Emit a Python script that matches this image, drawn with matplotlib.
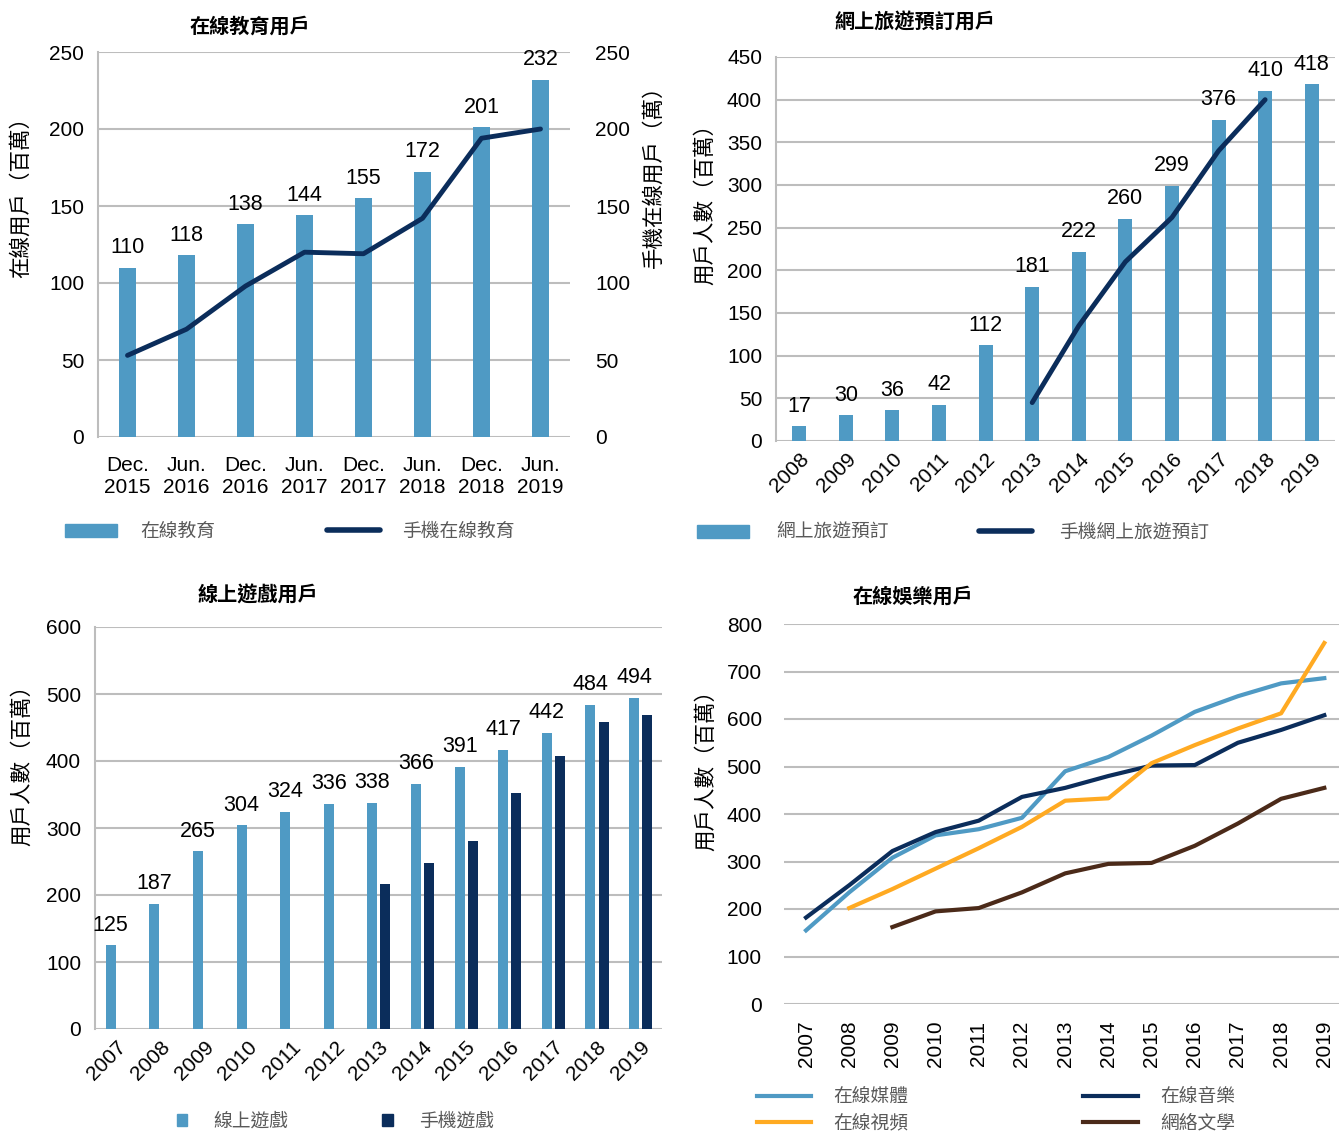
import matplotlib
matplotlib.use("Agg")
import matplotlib.pyplot as plt
import numpy as np
from matplotlib.patches import Patch
from matplotlib.lines import Line2D

plt.rcParams['font.family'] = ['Liberation Sans', 'Noto Sans CJK TC', 'DejaVu Sans']

# --- data ---
edu_periods = ["Dec.\n2015", "Jun.\n2016", "Dec.\n2016", "Jun.\n2017",
               "Dec.\n2017", "Jun.\n2018", "Dec.\n2018", "Jun.\n2019"]
edu_users = [110, 118, 138, 144, 155, 172, 201, 232]
edu_mobile = [53, 70, 98, 120, 119, 142, 194, 200]

travel_years = [str(y) for y in range(2008, 2020)]
travel_users = [17, 30, 36, 42, 112, 181, 222, 260, 299, 376, 410, 418]
travel_mobile = [None, None, None, None, None, 45, 135, 210, 262, 340, 400, None]

game_years = [str(y) for y in range(2007, 2020)]
game_users = [125, 187, 265, 304, 324, 336, 338, 366, 391, 417, 442, 484, 494]
game_mobile = [0, 0, 0, 0, 0, 0, 216, 248, 280, 352, 407, 458, 468]

ent_years = [str(y) for y in range(2007, 2020)]
ent_media = [155, 235, 308, 355, 368, 392, 490, 520, 565, 615, 648, 675, 686]
ent_music = [182, 250, 322, 362, 386, 436, 455, 480, 502, 503, 550, 577, 608]
ent_video = [None, 202, 242, 285, 328, 373, 428, 433, 507, 545, 580, 612, 760]
ent_lit = [None, None, 162, 195, 202, 235, 275, 295, 297, 333, 380, 432, 455]

BAR = "#4F9AC4"
NAVY = "#0B2D5B"
ORANGE = "#FFAA22"
BROWN = "#4B2A19"
GRID = "#BDBDBD"
LEG = "#595959"
TICK = 15
LAB = 15.5
TITLE = 14.5
LEGF = 13.5

W, H = 1339, 1140
fig = plt.figure(figsize=(W / 100, H / 100), dpi=100)


def rect(l, t, r, b):
    return [l / W, 1 - b / H, (r - l) / W, (b - t) / H]


def style(ax, left_spine=True):
    for s in ax.spines.values():
        s.set_visible(False)
    if left_spine:
        ax.spines['left'].set_visible(True)
        ax.spines['left'].set_color(GRID)
        ax.spines['left'].set_linewidth(1.5)
    ax.grid(axis='y', color=GRID, lw=1.5)
    ax.set_axisbelow(True)
    ax.tick_params(length=0, labelsize=TICK, pad=10)


def labels(ax, xs, vals):
    for x, v in zip(xs, vals):
        ax.annotate(str(v), (x, v), xytext=(0, 7), textcoords='offset points',
                    ha='center', va='bottom', fontsize=15.5)


# ---------- chart 1 ----------
ax1 = fig.add_axes(rect(98, 52, 570, 437))
style(ax1)
x = np.arange(len(edu_periods))
ax1.bar(x, edu_users, width=0.3, color=BAR)
labels(ax1, x, edu_users)
ax1.set_xlim(-0.5, len(x) - 0.5)
ax1.set_ylim(0, 250)
ax1.set_yticks(range(0, 251, 50))
ax1.set_xticks(x)
ax1.set_xticklabels(edu_periods, fontsize=TICK, linespacing=1.15)
ax1.tick_params(axis='x', pad=14)
ax1.set_ylabel("在線用戶（百萬）", fontsize=LAB)
ax1.yaxis.set_label_coords(-0.14, 0.636)
ax1b = ax1.twinx()
for s in ax1b.spines.values():
    s.set_visible(False)
ax1b.plot(x, edu_mobile, color=NAVY, lw=3.5, solid_capstyle='round')
ax1b.set_ylim(0, 250)
ax1b.set_yticks(range(0, 251, 50))
ax1b.tick_params(length=0, labelsize=TICK, pad=18)
ax1b.set_ylabel("手機在線用戶（萬）", fontsize=LAB, rotation=90)
ax1b.yaxis.set_label_coords(1.155, 0.69)
fig.text(250 / W, 1 - 27 / H, "在線教育用戶", ha='center', va='center',
         fontsize=TITLE, fontweight='bold')
ax1.legend(handles=[Patch(color=BAR, label="在線教育"),
                    Line2D([], [], color=NAVY, lw=4, solid_capstyle='round', label="手機在線教育")],
           loc='center left', bbox_to_anchor=(48 / W, 1 - 532 / H), bbox_transform=fig.transFigure,
           ncol=2, frameon=False, fontsize=LEGF, labelcolor=LEG, handlelength=2.8,
           handletextpad=1.2, columnspacing=6.0)

# ---------- chart 2 ----------
ax2 = fig.add_axes(rect(776, 57, 1335, 441))
style(ax2)
x = np.arange(len(travel_years))
ax2.bar(x, travel_users, width=0.3, color=BAR)
labels(ax2, x, travel_users)
mx = [i for i, v in enumerate(travel_mobile) if v is not None]
ax2.plot(mx, [travel_mobile[i] for i in mx], color=NAVY, lw=3.5, solid_capstyle='round')
ax2.set_xlim(-0.5, len(x) - 0.5)
ax2.set_ylim(0, 450)
ax2.set_yticks(range(0, 451, 50))
ax2.set_xticks(x)
ax2.set_xticklabels(travel_years, rotation=45, ha='right', rotation_mode='anchor', fontsize=TICK)
ax2.tick_params(axis='x', pad=6)
ax2.set_ylabel("用戶人數（百萬）", fontsize=LAB)
ax2.yaxis.set_label_coords(-0.107, 0.63)
fig.text(915 / W, 1 - 22 / H, "網上旅遊預訂用戶", ha='center', va='center',
         fontsize=TITLE, fontweight='bold')
ax2.legend(handles=[Patch(color=BAR, label="網上旅遊預訂"),
                    Line2D([], [], color=NAVY, lw=4, solid_capstyle='round', label="手機網上旅遊預訂")],
           loc='center left', bbox_to_anchor=(680 / W, 1 - 533 / H), bbox_transform=fig.transFigure,
           ncol=2, frameon=False, fontsize=LEGF, labelcolor=LEG, handlelength=2.8,
           handletextpad=1.45, columnspacing=4.8)

# ---------- chart 3 ----------
ax3 = fig.add_axes(rect(95, 627, 662, 1029))
style(ax3)
x = np.arange(len(game_years))
ax3.bar(x - 0.14, game_users, width=0.23, color=BAR)
ax3.bar(x + 0.16, game_mobile, width=0.23, color=NAVY)
labels(ax3, x - 0.14, game_users)
ax3.set_xlim(-0.5, len(x) - 0.5)
ax3.set_ylim(0, 600)
ax3.set_yticks(range(0, 601, 100))
ax3.set_xticks(x)
ax3.set_xticklabels(game_years, rotation=45, ha='right', rotation_mode='anchor', fontsize=TICK)
ax3.tick_params(axis='x', pad=6)
ax3.set_ylabel("用戶人數（百萬）", fontsize=LAB)
ax3.yaxis.set_label_coords(-0.109, 0.67)
fig.text(258 / W, 1 - 595 / H, "線上遊戲用戶", ha='center', va='center',
         fontsize=TITLE, fontweight='bold')
ax3.legend(handles=[Patch(color=BAR, label="線上遊戲"),
                    Patch(color=NAVY, label="手機遊戲")],
           loc='center left', bbox_to_anchor=(160 / W, 1 - 1122 / H), bbox_transform=fig.transFigure,
           ncol=2, frameon=False, fontsize=LEGF, labelcolor=LEG, handlelength=0.55,
           handleheight=0.65, handletextpad=1.4, columnspacing=5.0)

# ---------- chart 4 ----------
ax4 = fig.add_axes(rect(784, 624, 1339, 1004))
style(ax4, left_spine=False)
x = np.arange(len(ent_years))


def line(vals, color, label):
    idx = [i for i, v in enumerate(vals) if v is not None]
    return ax4.plot(idx, [vals[i] for i in idx], color=color, lw=3, label=label)[0]


h_media = line(ent_media, BAR, "在線媒體")
h_music = line(ent_music, NAVY, "在線音樂")
h_video = line(ent_video, ORANGE, "在線視頻")
h_lit = line(ent_lit, BROWN, "網絡文學")
ax4.set_xlim(-0.51, 12.34)
ax4.set_ylim(0, 800)
ax4.set_yticks(range(0, 801, 100))
ax4.set_xticks(x)
ax4.set_xticklabels(ent_years, rotation=90, fontsize=TICK)
ax4.tick_params(axis='x', pad=12)
ax4.tick_params(axis='y', pad=16)
ax4.set_ylabel("用戶人數（百萬）", fontsize=LAB)
ax4.yaxis.set_label_coords(-0.121, 0.63)
fig.text(913 / W, 1 - 597 / H, "在線娛樂用戶", ha='center', va='center',
         fontsize=TITLE, fontweight='bold')
ax4.legend(handles=[h_media, h_video, h_music, h_lit],
           loc='upper left', bbox_to_anchor=(740 / W, 1 - 1072 / H), bbox_transform=fig.transFigure,
           ncol=2, frameon=False, fontsize=LEGF, labelcolor=LEG, handlelength=2.9,
           handletextpad=1.2, columnspacing=9.3, labelspacing=0.45)

fig.savefig("out.png", dpi=100)
